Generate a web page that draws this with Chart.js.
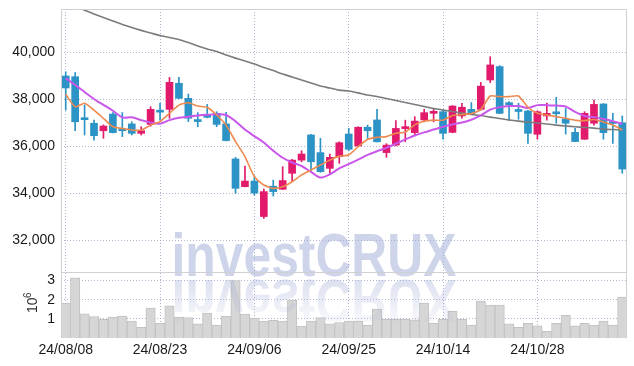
<!DOCTYPE html>
<html>
<head>
<meta charset="utf-8">
<script src="https://cdn.jsdelivr.net/npm/chart.js@4.4.1/dist/chart.umd.min.js"></script>
<style>
  html, body { margin: 0; padding: 0; background: #fff; }
  #wrap { width: 634px; height: 366px; }
</style>
</head>
<body>
<div id="wrap"><canvas id="chart" width="634" height="366"></canvas></div>
<script>
// trading days shown on the x axis
var dates = ['24/08/08','24/08/09','24/08/12','24/08/13','24/08/14','24/08/16','24/08/19','24/08/20','24/08/21','24/08/22',
             '24/08/23','24/08/26','24/08/27','24/08/28','24/08/29','24/08/30','24/09/02','24/09/03','24/09/04','24/09/05',
             '24/09/06','24/09/09','24/09/10','24/09/11','24/09/12','24/09/13','24/09/19','24/09/20','24/09/23','24/09/24',
             '24/09/25','24/09/26','24/09/27','24/09/30','24/10/02','24/10/04','24/10/07','24/10/08','24/10/10','24/10/11',
             '24/10/14','24/10/15','24/10/16','24/10/17','24/10/18','24/10/21','24/10/22','24/10/23','24/10/24','24/10/25',
             '24/10/28','24/10/29','24/10/30','24/10/31','24/11/01','24/11/04','24/11/05','24/11/06','24/11/07','24/11/08'];
var tickDates = ['24/08/08','24/08/23','24/09/06','24/09/25','24/10/14','24/10/28'];
var priceTicks = [32000, 34000, 36000, 38000, 40000];
var volTicks = [1000000, 2000000, 3000000];

var opens  = [38980,38950,37150,36970,36650,37360,36680,36940,36540,36920,
              37480,37560,38670,38030,37070,37320,37390,36940,35450,34270,
              34510,33000,34290,34160,34840,35400,36470,35720,35050,35550,
              36510,36000,36800,37110,35720,36040,36740,36570,37110,37390,
              37460,36580,37280,37560,37560,38810,39380,37790,37510,37490,
              36500,37280,37400,37150,36580,36290,36970,37790,36990,36990];
var highs  = [39160,39120,37750,37100,36900,37420,37420,37030,36820,37670,
              37830,38920,38920,38210,37420,37770,37460,37430,35520,35150,
              34720,34170,34550,35120,35430,35800,36500,36330,35660,36180,
              36750,36820,36890,37560,36100,37080,37100,37250,37560,37560,
              37530,37720,37820,37850,38710,39800,39420,37890,37820,37520,
              37500,37830,38070,37600,36750,37460,37960,37800,37390,37280];
var lows   = [37530,36650,36470,36250,36330,36560,36400,36470,36470,36840,
              37100,37180,38020,37040,36820,37200,36820,36220,33990,34260,
              33910,32920,33870,34150,34480,35330,34910,34880,34840,35260,
              35800,35990,36330,36170,35520,36000,36180,36460,37030,37030,
              36290,36560,37180,37350,37520,38700,37380,37080,37140,36110,
              36290,37100,36970,36510,36190,36280,36890,36290,36110,34840];
var closes = [38470,37030,37120,36440,36850,36570,36650,36540,36650,37560,
              37440,38710,38030,37180,37040,37220,36920,36230,34200,34510,
              34000,34060,34060,34530,35400,35660,35330,34910,35520,36140,
              35860,36800,36650,36180,36040,36750,36820,37060,37420,37460,
              36540,37700,37650,37360,38550,39450,37390,37760,37470,36540,
              37460,37390,37370,36970,36190,37390,37770,36570,36960,35020];

// moving averages
var maShort = [38200,37670,37820,37530,37180,36820,36750,36680,36680,36890,
               37040,37390,37740,37840,37700,37650,37320,36890,36190,35550,
               34700,34340,34200,34270,34480,34770,34980,35190,35400,35570,
               35620,35970,36290,36370,36400,36540,36600,36900,37050,37100,
               37100,37300,37340,37380,37560,38130,38100,38100,38130,37650,
               37390,37320,37250,37180,37100,37080,37130,37020,36890,36680];
var maMid   = [38880,38600,38300,38000,37750,37500,37220,37220,37100,37000,
               36950,37100,37200,37250,37300,37330,37350,37320,37050,36700,
               36420,36150,35800,35500,35300,35150,34900,34660,34800,35050,
               35230,35420,35620,35780,35920,36100,36280,36450,36580,36700,
               36820,36920,37000,37120,37300,37550,37650,37700,37700,37620,
               37740,37740,37720,37680,37450,37280,37230,37150,37060,36940];
var maLong  = [42080,41940,41780,41620,41470,41320,41170,41040,40920,40810,
               40700,40620,40530,40400,40260,40130,40020,39870,39740,39620,
               39490,39340,39210,39060,38940,38810,38680,38550,38470,38380,
               38340,38260,38170,38110,38020,37940,37850,37770,37680,37600,
               37530,37470,37400,37340,37300,37230,37170,37110,37060,37020,
               36980,36940,36890,36850,36820,36790,36760,36720,36700,36680];

var volumes = [1830000,3140000,1260000,1120000,980000,1090000,1140000,880000,560000,1560000,
               770000,1680000,1090000,1070000,740000,1300000,670000,1140000,3000000,1250000,
               1040000,890000,930000,880000,1980000,620000,880000,1070000,740000,810000,
               890000,890000,680000,1510000,980000,980000,980000,950000,1830000,770000,
               980000,1400000,980000,670000,1930000,1720000,1720000,740000,560000,770000,
               630000,350000,770000,1190000,630000,770000,680000,880000,680000,2140000];

var UP = '#e11a6c', DOWN = '#2b93c5';
var GRID = 'rgba(150,158,195,0.75)';
var FONT = '"Liberation Sans", Arial, sans-serif';

var bodies = [], wicks = [], colors = [];
for (var i = 0; i < dates.length; i++) {
    bodies.push([opens[i], closes[i]]);
    wicks.push([lows[i], highs[i]]);
    colors.push(closes[i] > opens[i] ? UP : DOWN);
}

function fixLeftAxis(s) {
    s.width = 61;
    s.paddingTop = 0;
    s.paddingBottom = 0;
}

var decor = {
    id: 'decor',
    afterDatasetsDraw: function(chart) {
        var ctx = chart.ctx;
        ctx.save();
        ctx.font = 'bold 62px "Liberation Sans", sans-serif';
        ctx.textAlign = 'center';
        ctx.textBaseline = 'alphabetic';
        var sx = 285 / ctx.measureText('investCRUX').width;
        ctx.translate(314, 276);
        ctx.save();
        ctx.scale(sx, 1);
        ctx.fillStyle = 'rgba(165,176,215,0.55)';
        ctx.fillText('investCRUX', 0, 0);
        ctx.restore();
        ctx.scale(sx, -1);
        ctx.translate(0, -4);
        var g = ctx.createLinearGradient(0, 0, 0, -46);
        g.addColorStop(0, 'rgba(165,176,215,0.38)');
        g.addColorStop(1, 'rgba(165,176,215,0.05)');
        ctx.fillStyle = g;
        ctx.fillText('investCRUX', 0, 0);
        ctx.restore();
    },
    afterDraw: function(chart) {
        var ctx = chart.ctx, a = chart.chartArea, p = chart.scales.price;
        ctx.save();
        ctx.strokeStyle = '#cfcfd4';
        ctx.lineWidth = 1;
        ctx.beginPath();
        ctx.moveTo(a.left + 0.5, a.bottom);
        ctx.lineTo(a.left + 0.5, a.top + 0.5);
        ctx.lineTo(a.right - 0.5, a.top + 0.5);
        ctx.lineTo(a.right - 0.5, a.bottom);
        ctx.moveTo(a.left, Math.round(p.bottom) + 0.5);
        ctx.lineTo(a.right, Math.round(p.bottom) + 0.5);
        ctx.stroke();
        // volume unit label
        ctx.fillStyle = '#333';
        ctx.translate(37, 313);
        ctx.rotate(-Math.PI / 2);
        ctx.font = '14px ' + FONT;
        ctx.textAlign = 'left';
        ctx.fillText('10', 0, 0);
        ctx.font = '10px ' + FONT;
        ctx.fillText('6', 15, -6);
        ctx.restore();
    }
};

var ctx = document.getElementById('chart').getContext('2d');
var chart = new Chart(ctx, {
    type: 'bar',
    data: {
        labels: dates,
        datasets: [
            { type: 'line', data: maShort, borderColor: '#ee8a50', borderWidth: 1.6, pointRadius: 0, tension: 0.2, yAxisID: 'price', order: 0 },
            { type: 'line', data: maMid, borderColor: '#c857ea', borderWidth: 2, pointRadius: 0, tension: 0.3, yAxisID: 'price', order: 0 },
            { type: 'line', data: maLong, borderColor: '#7b7b7b', borderWidth: 1.6, pointRadius: 0, tension: 0.2, yAxisID: 'price', order: 0 },
            { data: bodies, backgroundColor: colors, barThickness: 7, minBarLength: 2, grouped: false, yAxisID: 'price', order: 1 },
            { data: wicks, backgroundColor: colors, barThickness: 1, grouped: false, yAxisID: 'price', order: 2 },
            { data: volumes, backgroundColor: '#d6d6d6', borderColor: '#c2c2c2', borderWidth: 1,
              barPercentage: 1, categoryPercentage: 1, grouped: false, yAxisID: 'vol', order: 3 }
        ]
    },
    options: {
        responsive: false,
        animation: false,
        devicePixelRatio: 1,
        layout: { padding: { top: 9, right: 7, left: 0, bottom: 0 } },
        plugins: { legend: { display: false }, tooltip: { enabled: false } },
        scales: {
            x: {
                type: 'category',
                offset: true,
                grid: {
                    offset: false,
                    drawTicks: false,
                    color: function(c) { return tickDates.indexOf(dates[c.index]) >= 0 ? GRID : 'transparent'; }
                },
                border: { display: false, dash: [1, 2] },
                ticks: {
                    autoSkip: false, maxRotation: 0, padding: 4, color: '#1a1a1a',
                    font: { family: FONT, size: 14 },
                    callback: function(v, idx) { return tickDates.indexOf(dates[idx]) >= 0 ? dates[idx] : ''; }
                },
                afterFit: function(s) { s.height = 28; }
            },
            vol: {
                type: 'linear',
                position: 'left',
                stack: 'panes',
                stackWeight: 66,
                min: 0,
                max: 3450000,
                grid: { drawTicks: false, color: GRID },
                border: { display: false, dash: [1, 2] },
                ticks: {
                    autoSkip: false, padding: 6, color: '#1a1a1a',
                    font: { family: FONT, size: 14 },
                    callback: function(v) { return String(v / 1000000); }
                },
                afterBuildTicks: function(s) { s.ticks = volTicks.map(function(v) { return { value: v }; }); },
                afterFit: fixLeftAxis
            },
            price: {
                type: 'linear',
                position: 'left',
                stack: 'panes',
                stackWeight: 263,
                min: 30640,
                max: 41830,
                grid: { drawTicks: false, color: GRID },
                border: { display: false, dash: [1, 2] },
                ticks: {
                    autoSkip: false, padding: 6, color: '#1a1a1a',
                    font: { family: FONT, size: 14 },
                    callback: function(v) { return v.toLocaleString('en-US'); }
                },
                afterBuildTicks: function(s) { s.ticks = priceTicks.map(function(v) { return { value: v }; }); },
                afterFit: fixLeftAxis
            }
        }
    },
    plugins: [decor]
});
</script>
</body>
</html>
